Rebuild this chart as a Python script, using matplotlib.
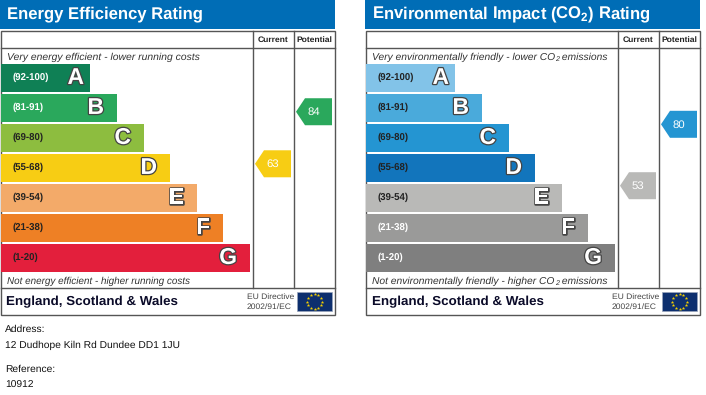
import math
import matplotlib
matplotlib.use("Agg")
import matplotlib.pyplot as plt
from matplotlib.patches import Polygon, Rectangle
import matplotlib.patheffects as pe

plt.rcParams['font.family'] = ['Liberation Sans', 'DejaVu Sans']
plt.rcParams['mathtext.default'] = 'regular'
plt.rcParams['text.hinting'] = 'none'

# bands, top to bottom
letters = ["A", "B", "C", "D", "E", "F", "G"]
ranges = ["(92-100)", "(81-91)", "(69-80)", "(55-68)", "(39-54)", "(21-38)", "(1-20)"]
range_low = [92, 81, 69, 55, 39, 21, 1]
range_high = [100, 91, 80, 68, 54, 38, 20]
band_len = [89, 116, 143, 169, 196, 222, 249]
letter_inset = [6, 13, 13, 13, 13, 13, 13]

energy_colors = ["#0f8055", "#2aa85c", "#8dbd3f", "#f7cd14", "#f3aa69", "#ee8025", "#e31f3c"]
energy_label_colors = ["white", "white", "#222222", "#222222", "#222222", "#222222", "#222222"]
co2_colors = ["#82c3e8", "#4aaadb", "#2495d2", "#1275bc", "#b9b9b7", "#9a9a99", "#7f7f7f"]
co2_label_colors = ["#222222", "#222222", "#222222", "#222222", "#222222", "white", "white"]

energy_current = 63
energy_potential = 84
co2_current = 53
co2_potential = 80

address_lines = ["Address:", "12 Dudhope Kiln Rd Dundee DD1 1JU", "Reference:", "10912"]

BLUE = "#006db6"
FRAME = "#555555"

fig = plt.figure(figsize=(7.06, 3.95), dpi=100)
ax = fig.add_axes([0, 0, 1, 1])
ax.set_xlim(0, 706)
ax.set_ylim(395, 0)
ax.axis("off")


def band_of(score):
    for i in range(len(letters)):
        if range_low[i] <= score <= range_high[i]:
            return i
    return 0


def score_y(score):
    # the arrow sits inside its band, proportional to the score
    i = band_of(score)
    top = 64.3 + i * 30 - (0.3 * (i > 2))
    frac = (range_high[i] - score) / (range_high[i] - range_low[i] + 1)
    return top + frac * 27.4


def arrow(x, score, color):
    y = score_y(score)
    pts = [(x, y), (x + 9, y - 13.5), (x + 36, y - 13.5), (x + 36, y + 13.5), (x + 9, y + 13.5)]
    ax.add_patch(Polygon(pts, closed=True, fc=color, ec="none", zorder=3))
    ax.text(x + 17.5, y + 0.3, str(score), color="white", fontsize=8.2, ha="center", va="center", zorder=4)


def caption(x, y, txt, size):
    # mathtext wobbles small italics, so the subscript is set on its own
    parts = txt.split("_2")
    t = ax.text(x, y, parts[0], color="#333333", fontsize=size, style="italic", va="baseline")
    if len(parts) == 1:
        return
    r = fig.canvas.get_renderer()
    x2 = t.get_window_extent(r).x1 + 0.3
    s = ax.text(x2, y + 1.6, "2", color="#333333", fontsize=size * 0.7, style="italic", va="baseline")
    x3 = s.get_window_extent(r).x1
    ax.text(x3, y, parts[1], color="#333333", fontsize=size, style="italic", va="baseline")


def panel(x0, title, top_txt, top_size, bottom_txt, bottom_size, colors, label_colors, current, potential):
    # header
    ax.add_patch(Rectangle((x0, 0), 335, 28.5, fc=BLUE, ec="none"))
    ax.text(x0 + 7, 14.5, title, color="white", fontsize=12, fontweight="bold", va="center")

    # frame
    ax.add_patch(Rectangle((x0 + 0.7, 30.5), 334, 284, fc="white", ec=FRAME, lw=1))
    for xx in [x0 + 253, x0 + 294]:
        ax.plot([xx, xx], [30.5, 288], color=FRAME, lw=1)
    ax.plot([x0 + 0.7, x0 + 334.7], [47.5, 47.5], color=FRAME, lw=1)
    ax.plot([x0 + 0.7, x0 + 334.7], [288, 288], color=FRAME, lw=1)
    ax.text(x0 + 272.7, 39.5, "Current", color="#222222", fontsize=6.1, fontweight="bold", ha="center", va="center")
    ax.text(x0 + 314.5, 39.5, "Potential", color="#222222", fontsize=6.1, fontweight="bold", ha="center", va="center")

    caption(x0 + 7, 59.5, top_txt, top_size)
    caption(x0 + 7, 283.5, bottom_txt, bottom_size)

    # bands
    ys = [78 + 30 * i for i in range(len(letters))]
    ax.barh(ys, band_len, left=x0 + 1, height=27.4, color=colors, zorder=2)
    for i, y in enumerate(ys):
        ax.text(x0 + 13, y - 0.8, ranges[i], color=label_colors[i], fontsize=6.9, fontweight="bold", va="center", zorder=3)
        t = ax.text(x0 + 1 + band_len[i] - letter_inset[i], y, letters[i], color="white", fontsize=16.5,
                    fontweight="bold", ha="right", va="center", zorder=3)
        t.set_path_effects([pe.withStroke(linewidth=1.8, foreground="#444444")])

    arrow(x0 + 255, current, colors[band_of(current)])
    arrow(x0 + 296, potential, colors[band_of(potential)])

    # footer
    ax.text(x0 + 6.5, 301.5, "England, Scotland & Wales", color="#0a0a28", fontsize=9.65, fontweight="bold", va="center")
    ax.text(x0 + 246.7, 297, "EU Directive", color="#444444", fontsize=6.1, va="center")
    ax.text(x0 + 246.7, 306.5, "2002/91/EC", color="#444444", fontsize=6.1, va="center")
    ax.add_patch(Rectangle((x0 + 297, 292), 35, 19, fc="#0d2f6e", ec="#9aa5bb", lw=0.5))
    cx, cy = x0 + 314.5, 301.5
    for k in range(12):
        ang = math.radians(30 * k)
        ax.plot(cx + 7.5 * math.cos(ang), cy + 7.5 * math.sin(ang), marker="*", ms=2.6, color="#f5d000", mec="none")


panel(0, "Energy Efficiency Rating",
      "Very energy efficient - lower running costs", 7.45,
      "Not energy efficient - higher running costs", 7.15,
      energy_colors, energy_label_colors, energy_current, energy_potential)
panel(365, "Environmental Impact (CO$_2$) Rating",
      "Very environmentally friendly - lower CO_2 emissions", 7.4,
      "Not environmentally friendly - higher CO_2 emissions", 7.4,
      co2_colors, co2_label_colors, co2_current, co2_potential)

for y, line in zip([329.7, 345.7, 369.7, 385.7], address_lines):
    ax.text(5, y, line, color="#111111", fontsize=7.4, va="center")

fig.savefig("out.png", dpi=100)
